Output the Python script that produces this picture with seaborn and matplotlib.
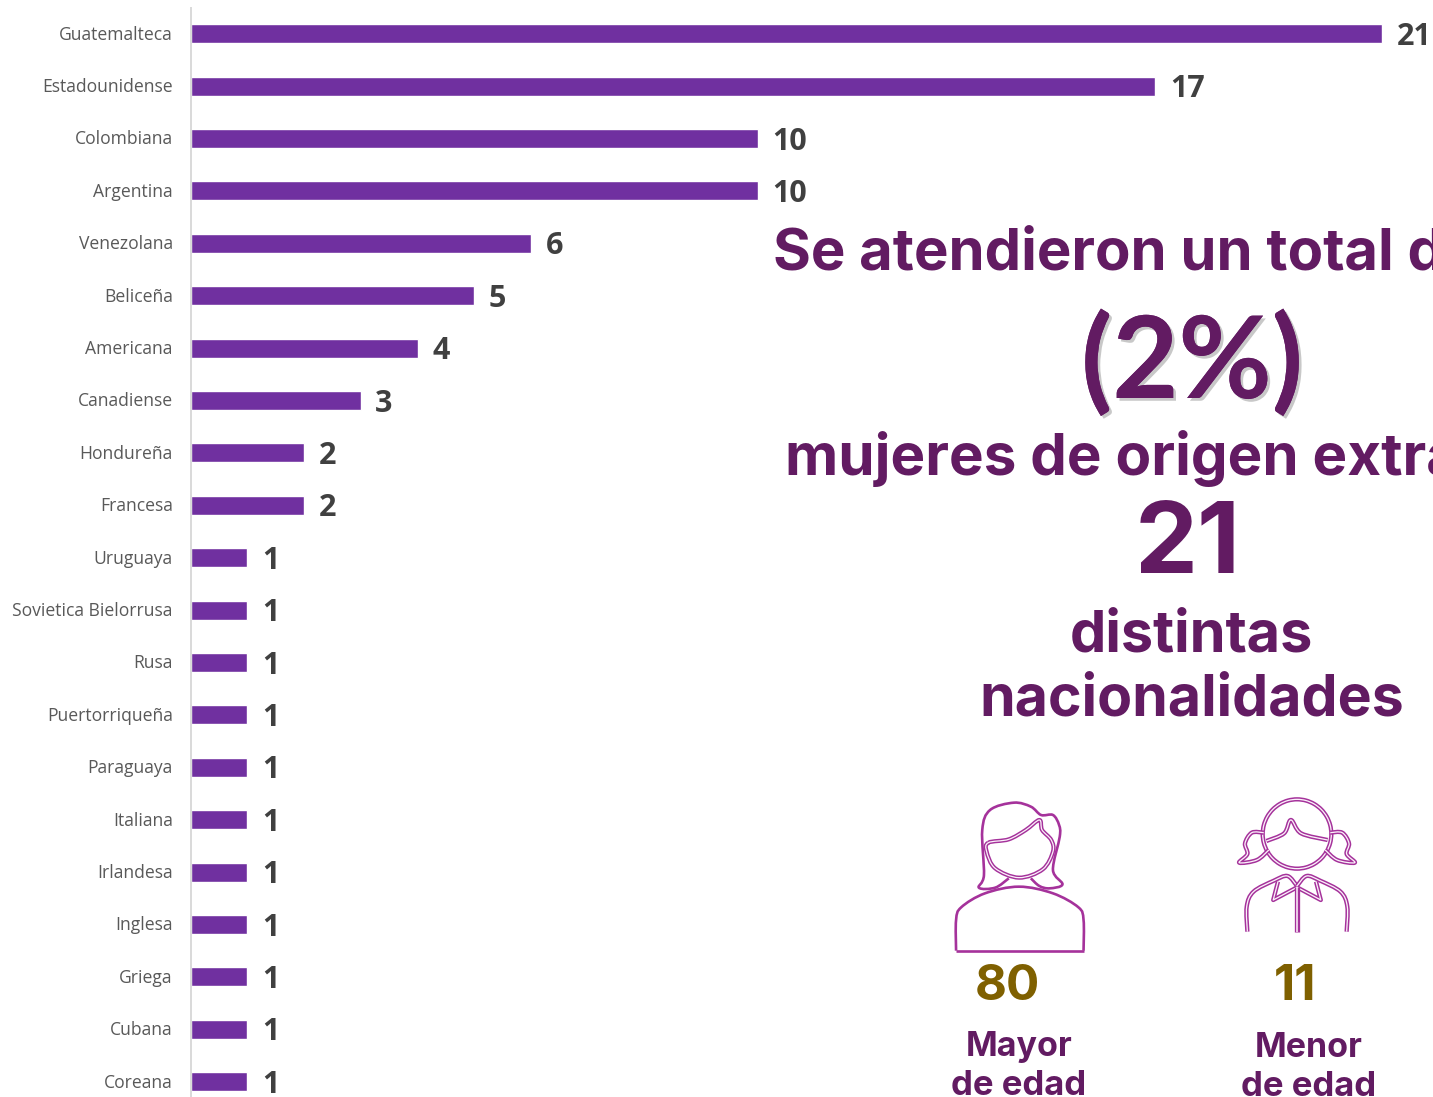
import numpy as np
import matplotlib
matplotlib.use("Agg")
import matplotlib.pyplot as plt
import matplotlib.patheffects as pe
from matplotlib.path import Path
from matplotlib.patches import PathPatch
from matplotlib.transforms import ScaledTranslation
import seaborn as sns

categories = ["Guatemalteca", "Estadounidense", "Colombiana", "Argentina", "Venezolana", "Beliceña",
              "Americana", "Canadiense", "Hondureña", "Francesa", "Uruguaya", "Sovietica Bielorrusa",
              "Rusa", "Puertorriqueña", "Paraguaya", "Italiana", "Irlandesa", "Inglesa", "Griega",
              "Cubana", "Coreana"]
values = [21, 17, 10, 10, 6, 5, 4, 3, 2, 2, 1, 1, 1, 1, 1, 1, 1, 1, 1, 1, 1]

BAR = "#7030A0"
INK = "#621B62"
GOLD = "#7F6000"
ICON = "#A5329B"

sns.set_theme(style="white")
plt.rcParams["font.family"] = ["Inter", "Open Sans", "DejaVu Sans"]

W, H = 1433, 1097
X0 = 190.5
fig = plt.figure(figsize=(W / 100, H / 100), dpi=100, facecolor="white")
ax = fig.add_axes([X0 / W, 0, 1 - X0 / W, 1 - 8 / H])
sns.barplot(x=values, y=categories, color=BAR, saturation=1, width=0.365, ax=ax)
ax.set_xlim(0, (W - X0) / 56.76)
ax.set_ylim((H - 33.7) / 52.4, (8 - 33.7) / 52.4)
ax.set(xlabel="", ylabel="")
ax.xaxis.set_visible(False)
for s in ["top", "right", "bottom"]:
    ax.spines[s].set_visible(False)
ax.spines["left"].set_color("#D9D9D9")
ax.spines["left"].set_linewidth(1.4)
ax.tick_params(axis="y", length=0, pad=12.8)
up = ScaledTranslation(0, 1 / 100, fig.dpi_scale_trans)
for t in ax.get_yticklabels():
    t.set_fontsize(12.65)
    t.set_color("#595959")
    t.set_fontfamily(["Open Sans", "DejaVu Sans"])
    t.set_transform(t.get_transform() + up)
labels = ax.bar_label(ax.containers[0], padding=11, fontsize=22, fontweight="bold", color="#404040",
                      family=["Open Sans", "DejaVu Sans"])
for a in labels:
    a.xyann = (10.5, -2.2)

# overlay in pixel coordinates for the text panel and icons
ov = fig.add_axes([0, 0, 1, 1], facecolor="none")
ov.set_xlim(0, W)
ov.set_ylim(H, 0)
ov.axis("off")

FAM = ["Inter", "Open Sans", "DejaVu Sans"]
def txt(x, y, s, size, color=INK, ha="left", fam=FAM, **kw):
    return ov.text(x, y, s, fontsize=size, color=color, ha=ha, va="baseline",
                   fontweight="bold", family=fam, clip_on=True, **kw)

txt(773, 270, "Se atendieron un total de", 41.8)
txt(1192, 398, "(2%)", 82, ha="center", fam=["Lato", "Inter", "DejaVu Sans"], path_effects=[
    pe.withSimplePatchShadow(offset=(2, -2), shadow_rgbFace="#777777", alpha=0.4), pe.Normal()])
txt(785, 475, "mujeres de origen extranjero", 42)
txt(1188, 573, "21", 72, ha="center")
txt(1191.5, 651, "distintas", 41.5, ha="center")
txt(1191.5, 715, "nacionalidades", 41.2, ha="center")
txt(1007, 1000, "80", 35.5, color=GOLD, ha="center")
txt(1295, 1000, "11", 35.5, color=GOLD, ha="center")
txt(1019, 1056, "Mayor", 24.5, ha="center")
txt(1019, 1095, "de edad", 25, ha="center")
txt(1309, 1057, "Menor", 24.5, ha="center")
txt(1309, 1096, "de edad", 25, ha="center")

def px(x, y):
    return (900 + x / 2.942, 780 + y / 3.0)


def smooth(pts, closed=False):
    """Catmull-Rom curve through outline points of a decorative icon, in zoom-crop units."""
    p = np.array([px(x, y) for x, y in pts], float)
    n = len(p)
    verts, codes = [p[0]], [Path.MOVETO]
    rng = range(n if closed else n - 1)
    for i in rng:
        p0 = p[(i - 1) % n] if (closed or i > 0) else p[i]
        p1, p2 = p[i], p[(i + 1) % n]
        p3 = p[(i + 2) % n] if (closed or i + 2 < n) else p2
        verts += [p1 + (p2 - p0) / 6, p2 - (p3 - p1) / 6, p2]
        codes += [Path.CURVE4] * 3
    return Path(verts, codes)


def stroke(path, double=False, lw=1.9):
    ov.add_patch(PathPatch(path, fc="none", ec=ICON, lw=lw, capstyle="butt", joinstyle="round"))
    if double:
        ov.add_patch(PathPatch(path, fc="none", ec="#FBF1FA", lw=lw * 0.3, capstyle="butt", joinstyle="round"))


# adult woman
body = [(165, 512), (165, 420), (180, 382), (250, 340), (350, 320), (450, 340), (525, 382), (540, 420), (540, 512)]
stroke(smooth(body))
stroke(Path([px(165, 512), px(540, 512)]))
hair = [(320, 295), (280, 323), (232, 323), (247, 285), (242, 150), (265, 90), (335, 68), (385, 80), (415, 105),
        (450, 105), (468, 135), (470, 170), (450, 270), (478, 313), (440, 325), (410, 318), (385, 295)]
stroke(smooth(hair))
face = [(260, 188), (320, 178), (370, 150), (410, 120), (418, 150), (445, 180), (450, 215), (420, 268), (350, 293),
        (280, 265), (255, 215)]
stroke(smooth(face, closed=True), double=True, lw=3.0)

# girl
head = [(1168 + 101 * np.cos(a), 162 + 104 * np.sin(a)) for a in np.linspace(0, 2 * np.pi, 25)[:-1]]
stroke(smooth(head, closed=True), double=True, lw=3.1)
fringe = [(1078, 183), (1130, 160), (1150, 120), (1180, 160), (1258, 180)]
stroke(smooth(fringe), double=True, lw=3.1)
for sgn in (1, -1):
    mx = (lambda v: v) if sgn == 1 else (lambda v: 2336 - v)
    tail = [(1070, 158), (1035, 158), (1015, 190), (1022, 222), (998, 248), (1050, 240), (1085, 210)]
    stroke(smooth([(mx(x), y) for x, y in tail]), double=True, lw=3.1)
    shoulder = [(1022, 455), (1020, 380), (1040, 335), (1100, 302), (1140, 288), (1168, 318)]
    stroke(smooth([(mx(x), y) for x, y in shoulder]), double=True, lw=3.1)
    collar = [(1112, 305), (1098, 360), (1168, 322)]
    stroke(Path([px(mx(x), y) for x, y in collar]), double=True, lw=3.1)
stroke(Path([px(1168, 322), px(1168, 455)]), double=True, lw=3.8)

fig.savefig("out.png", dpi=100, facecolor="white")
